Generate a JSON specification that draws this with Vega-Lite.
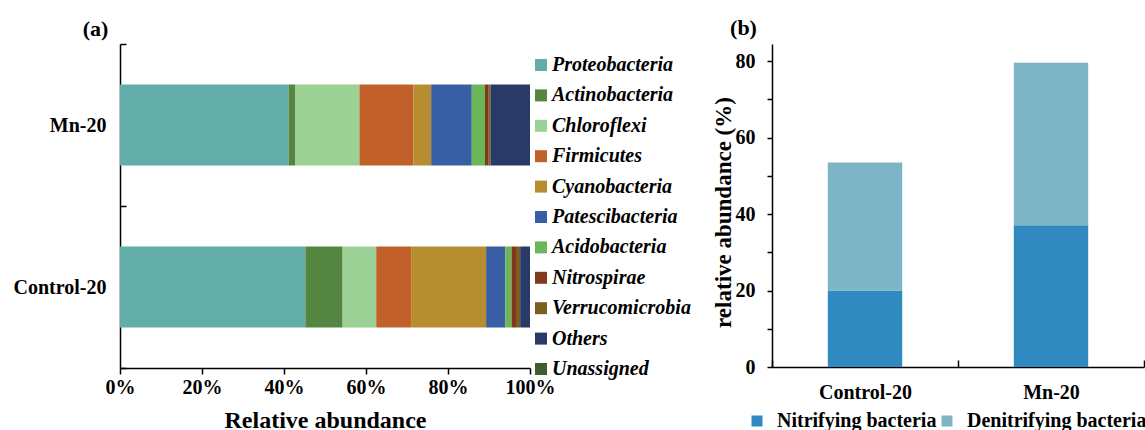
{
  "$schema": "https://vega.github.io/schema/vega-lite/v6.json",
  "background": "white",
  "padding": {"left": 13, "top": 16, "right": 0, "bottom": 0},
  "config": {
    "view": {"stroke": null},
    "font": "Liberation Serif, Times New Roman, serif",
    "axis": {"labelFont": "Liberation Serif, Times New Roman, serif", "titleFont": "Liberation Serif, Times New Roman, serif", "domainColor": "black", "domainWidth": 1.5, "tickColor": "black", "tickWidth": 1.5, "labelColor": "black", "titleColor": "black", "labelFontWeight": "bold", "titleFontWeight": "bold", "grid": false},
    "legend": {"labelFont": "Liberation Serif, Times New Roman, serif", "labelColor": "black"}
  },
  "spacing": 21,
  "resolve": {"scale": {"color": "independent"}, "legend": {"color": "independent"}},
  "hconcat": [
    {
      "width": 410,
      "height": 324,
      "data": {"values": [
        {"sample": "Mn-20", "phylum": "Proteobacteria", "k": 1, "value": 41.1},
        {"sample": "Mn-20", "phylum": "Actinobacteria", "k": 2, "value": 1.7},
        {"sample": "Mn-20", "phylum": "Chloroflexi", "k": 3, "value": 15.6},
        {"sample": "Mn-20", "phylum": "Firmicutes", "k": 4, "value": 13.2},
        {"sample": "Mn-20", "phylum": "Cyanobacteria", "k": 5, "value": 4.3},
        {"sample": "Mn-20", "phylum": "Patescibacteria", "k": 6, "value": 9.9},
        {"sample": "Mn-20", "phylum": "Acidobacteria", "k": 7, "value": 3.2},
        {"sample": "Mn-20", "phylum": "Nitrospirae", "k": 8, "value": 0.8},
        {"sample": "Mn-20", "phylum": "Verrucomicrobia", "k": 9, "value": 0.6},
        {"sample": "Mn-20", "phylum": "Others", "k": 10, "value": 9.6},
        {"sample": "Control-20", "phylum": "Proteobacteria", "k": 1, "value": 45.2},
        {"sample": "Control-20", "phylum": "Actinobacteria", "k": 2, "value": 9.1},
        {"sample": "Control-20", "phylum": "Chloroflexi", "k": 3, "value": 8.2},
        {"sample": "Control-20", "phylum": "Firmicutes", "k": 4, "value": 8.5},
        {"sample": "Control-20", "phylum": "Cyanobacteria", "k": 5, "value": 18.3},
        {"sample": "Control-20", "phylum": "Patescibacteria", "k": 6, "value": 4.7},
        {"sample": "Control-20", "phylum": "Acidobacteria", "k": 7, "value": 1.5},
        {"sample": "Control-20", "phylum": "Nitrospirae", "k": 8, "value": 1.3},
        {"sample": "Control-20", "phylum": "Verrucomicrobia", "k": 9, "value": 0.8},
        {"sample": "Control-20", "phylum": "Others", "k": 10, "value": 2.4}
      ]},
      "mark": {"type": "bar", "height": {"band": 0.5}},
      "encoding": {
        "y": {"field": "sample", "type": "nominal", "sort": ["Mn-20", "Control-20"],
          "scale": {"paddingInner": 0, "paddingOuter": 0},
          "axis": {"title": "(a)", "titleAngle": 0, "titleX": -25, "titleY": -16, "titleAlign": "center", "titleBaseline": "middle", "titleFontSize": 22,
            "tickBand": "extent", "tickSize": -6, "labelPadding": 20, "labelFontSize": 20}},
        "x": {"field": "value", "type": "quantitative", "stack": "zero",
          "scale": {"domain": [0, 100], "nice": false},
          "axis": {"values": [0, 20, 40, 60, 80, 100], "labelExpr": "datum.value + '%'", "title": "Relative abundance", "labelFontSize": 20, "titleFontSize": 24, "tickSize": 6, "labelPadding": 3, "titlePadding": 11, "labelFlush": false}},
        "color": {"field": "phylum", "type": "nominal",
          "scale": {"domain": ["Proteobacteria", "Actinobacteria", "Chloroflexi", "Firmicutes", "Cyanobacteria", "Patescibacteria", "Acidobacteria", "Nitrospirae", "Verrucomicrobia", "Others", "Unassigned"],
            "range": ["#63ADA9", "#548642", "#9BD194", "#C2602A", "#B68E30", "#385EA4", "#6BB658", "#7F3A1C", "#7A5E22", "#2A3A68", "#3D5E2E"]},
          "legend": {"orient": "none", "legendX": 411, "legendY": 11, "title": null, "symbolType": "square", "symbolSize": 144, "symbolStrokeWidth": 0, "symbolOpacity": 1, "labelFontSize": 20, "labelFontStyle": "italic", "labelFontWeight": "bold", "labelOffset": 1, "rowPadding": 10.4, "labelLimit": 300}},
        "order": {"field": "k", "type": "quantitative"}
      }
    },
    {
      "width": 372,
      "height": 323,
      "data": {"values": [
        {"sample": "Control-20", "type": "Nitrifying bacteria", "k": 1, "value": 20.0},
        {"sample": "Control-20", "type": "Denitrifying bacteria", "k": 2, "value": 33.5},
        {"sample": "Mn-20", "type": "Nitrifying bacteria", "k": 1, "value": 37.1},
        {"sample": "Mn-20", "type": "Denitrifying bacteria", "k": 2, "value": 42.5}
      ]},
      "mark": {"type": "bar", "width": {"band": 0.4}},
      "encoding": {
        "x": {"field": "sample", "type": "nominal", "sort": ["Control-20", "Mn-20"],
          "scale": {"paddingInner": 0, "paddingOuter": 0},
          "axis": {"title": "(b)", "titleX": -29, "titleY": -340, "titleAlign": "center", "titleBaseline": "middle", "titleFontSize": 22,
            "labelAngle": 0, "tickBand": "extent", "tickSize": -7, "labelPadding": 22, "labelFontSize": 20}},
        "y": {"field": "value", "type": "quantitative", "stack": "zero",
          "scale": {"domain": [0, 84.5], "nice": false},
          "axis": {"title": "relative abundance (%)", "titleY": 168, "values": [0, 10, 20, 30, 40, 50, 60, 70, 80], "labelExpr": "datum.value % 20 === 0 ? datum.label : ''", "labelFontSize": 20, "titleFontSize": 23, "tickSize": 5, "labelPadding": 12, "titlePadding": 0}},
        "color": {"field": "type", "type": "nominal",
          "scale": {"domain": ["Nitrifying bacteria", "Denitrifying bacteria"], "range": ["#318ABF", "#7DB5C7"]},
          "legend": {"orient": "none", "legendX": -25, "legendY": 367, "direction": "horizontal", "columns": 2, "title": null, "symbolType": "square", "symbolSize": 121, "symbolStrokeWidth": 0, "symbolOpacity": 1, "labelFontSize": 20, "labelFontWeight": "bold", "labelOffset": 10, "columnPadding": -9, "labelLimit": 300}},
        "order": {"field": "k", "type": "quantitative"}
      }
    }
  ]
}
